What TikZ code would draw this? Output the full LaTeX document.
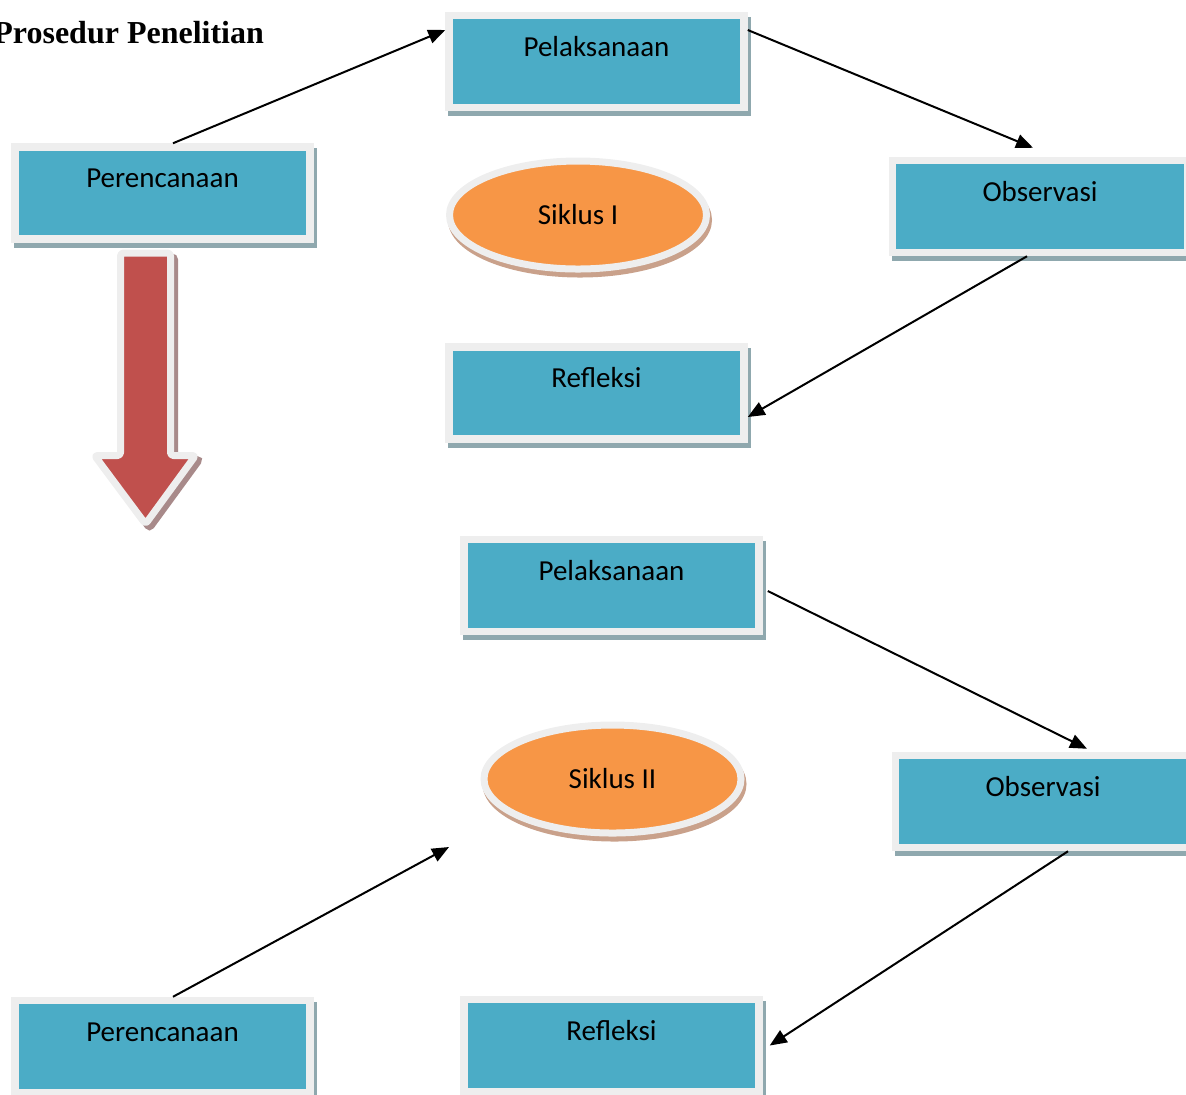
\documentclass[tikz,border=0pt]{standalone}
\usepackage{fontspec}
\setmainfont{Carlito}
\newfontfamily\judulfont{Liberation Serif}
\usetikzlibrary{shapes.geometric,shadows,arrows.meta}

\definecolor{kotakBiru}{HTML}{4BACC6}
\definecolor{bingkai}{HTML}{EEEEEE}
\definecolor{bayangKotak}{HTML}{8FA8AE}
\definecolor{oranye}{HTML}{F79646}
\definecolor{bayangElips}{HTML}{C9A18B}
\definecolor{merah}{HTML}{C0504D}
\definecolor{bayangPanah}{HTML}{A88A8A}

\begin{document}
\begin{tikzpicture}[
  x=0.5pt, y=-0.5pt,
  font=\fontsize{14.5}{17}\selectfont,
  box/.style={draw=bingkai, line width=3.75pt, fill=kotakBiru,
    minimum width=147.5pt, minimum height=46pt, inner sep=0pt,
    text height=10pt, text depth=15.5pt,
    drop shadow={shadow xshift=1.5pt, shadow yshift=-2.5pt,
      fill=bayangKotak, draw=bayangKotak, line width=3.75pt, opacity=1}},
  siklus/.style={ellipse, draw=bingkai, line width=3.5pt, fill=oranye,
    minimum width=128.5pt, minimum height=54pt, inner sep=0pt,
    drop shadow={shadow xshift=1pt, shadow yshift=-2.5pt,
      fill=bayangElips, draw=bayangElips, line width=3.5pt, opacity=1}},
  panahBesar/.style={draw=bingkai, line width=3.5pt, fill=merah,
    line join=round, rounded corners=1.5pt,
    drop shadow={shadow xshift=2pt, shadow yshift=-2pt,
      fill=bayangPanah, draw=bayangPanah, line width=3.5pt, opacity=1}},
  flow/.style={-{Triangle[length=8.5pt,width=7pt]}, line width=1pt},
  every node/.style={align=center}]

\useasboundingbox (0,0) rectangle (1186,1094);

% Title
\node[anchor=base west, inner sep=0pt, font=\judulfont\fontsize{16}{19}\selectfont\bfseries]
  (judul) at (-7,43) {Prosedur Penelitian};

% Cycle I
\node[box] (pelaksanaanSatu) at (596.5,61.5) {Pelaksanaan};
\node[box] (perencanaanSatu) at (162.5,193) {Perencanaan};
\node[box] (observasiSatu) at (1040,206.5) {Observasi};
\node[box] (refleksiSatu) at (596.5,393) {Refleksi};
\node[siklus] (siklusSatu) at (578,215) {Siklus I};

% Cycle II
\node[box] (pelaksanaanDua) at (611.5,585.5) {Pelaksanaan};
\node[box] (observasiDua) at (1043,801.5) {Observasi};
\node[box] (perencanaanDua) at (162.5,1046.5) {Perencanaan};
\node[box] (refleksiDua) at (611.5,1045.5) {Refleksi};
\node[siklus] (siklusDua) at (612.5,779) {Siklus II};
\coordinate (menujuSiklusDua) at (449,847);

% Big arrow from cycle I to cycle II
\path[panahBesar] (120.5,253) -- (170.5,253) -- (170.5,455.5) -- (195.5,455.5)
  -- (145.5,524) -- (94.5,455.5) -- (120.5,455.5) -- cycle;

% Arrows between the steps
\draw[flow] ([xshift=5.25pt]perencanaanSatu.north) -- ([yshift=15.75pt]pelaksanaanSatu.west);
\draw[flow] ([yshift=15.75pt]pelaksanaanSatu.east) -- ([xshift=-3.5pt,yshift=4.5pt]observasiSatu.north);
\draw[flow] ([xshift=-6.5pt]observasiSatu.south) -- ([yshift=-12pt]refleksiSatu.east);
\draw[flow] ([xshift=2.5pt,yshift=-2.75pt]pelaksanaanDua.east) -- ([xshift=22pt,yshift=1.5pt]observasiDua.north);
\draw[flow] ([xshift=12.5pt]observasiDua.south) -- ([xshift=3.5pt]refleksiDua.east);
\draw[flow] ([xshift=5.25pt]perencanaanDua.north) -- (menujuSiklusDua);
\end{tikzpicture}
\end{document}
